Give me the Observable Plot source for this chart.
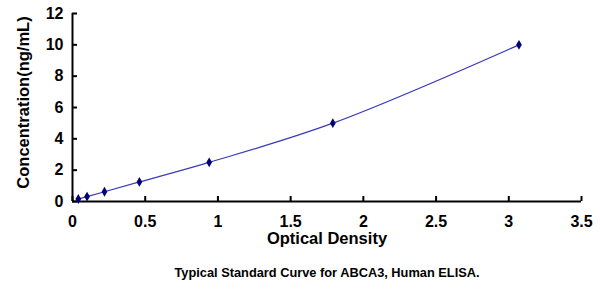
<!DOCTYPE html>
<html>
<head>
<meta charset="utf-8">
<script src="https://cdn.jsdelivr.net/npm/d3@7"></script>
<script src="https://cdn.jsdelivr.net/npm/@observablehq/plot@0.6"></script>
<style>
  html, body { margin: 0; padding: 0; background: #fff; }
  svg { display: block; }
</style>
</head>
<body>
<div id="chart"></div>
<script>
const od = [0.04, 0.10, 0.22, 0.46, 0.94, 1.79, 3.07];
const conc = [0.156, 0.312, 0.625, 1.25, 2.5, 5, 10];
const xTicks = [0, 0.5, 1, 1.5, 2, 2.5, 3, 3.5];
const yTicks = [0, 2, 4, 6, 8, 10, 12];
const xLabel = "Optical Density";
const yLabel = "Concentration(ng/mL)";
const caption = "Typical Standard Curve for ABCA3, Human ELISA.";

const data = od.map((x, i) => ({x, y: conc[i]}));
const font = "'Liberation Sans', Arial, sans-serif";
const W = 600, H = 289, ML = 72, MR = 19, MT = 13, MB = 88;
const tickLen = 5;

const chart = Plot.plot({
  width: W,
  height: H,
  marginLeft: ML,
  marginRight: MR,
  marginTop: MT,
  marginBottom: MB,
  style: {fontFamily: font, background: "#fff", color: "#000", overflow: "visible"},
  x: {domain: [0, 3.5]},
  y: {domain: [0, 12]},
  marks: [
    Plot.axisX({ticks: xTicks, tickFormat: d => String(d), tickSize: 0, tickPadding: 14, label: null, fontSize: 16, fontWeight: "bold", fill: "#000"}),
    Plot.axisY({ticks: yTicks, tickFormat: d => String(d), tickSize: 0, tickPadding: 9, label: null, fontSize: 16, fontWeight: "bold", fill: "#000"}),
    Plot.tickX(xTicks, {x: d => d, insetTop: H - MT - MB - tickLen, stroke: "#000", strokeWidth: 2}),
    Plot.tickY(yTicks, {y: d => d, insetRight: W - ML - MR - tickLen, stroke: "#000", strokeWidth: 2}),
    Plot.ruleX([0], {stroke: "#000", strokeWidth: 2}),
    Plot.ruleY([0], {stroke: "#000", strokeWidth: 2}),
    Plot.line(data, {x: "x", y: "y", curve: "catmull-rom", stroke: "#3b3bb8", strokeWidth: 1.2}),
    Plot.dot(data, {x: "x", y: "y", symbol: "diamond", r: 3, fill: "#00007a", stroke: "none"}),
    Plot.text([xLabel], {frameAnchor: "bottom", dy: 42, fontSize: 16.5, fontWeight: "bold", fill: "#000"}),
    Plot.text([yLabel], {frameAnchor: "left", textAnchor: "middle", dx: -49, dy: -5, rotate: -90, fontSize: 16.5, fontWeight: "bold", fill: "#000"}),
    Plot.text([caption], {frameAnchor: "bottom", dy: 75, fontSize: 12.8, fontWeight: "bold", fill: "#000"})
  ]
});
document.getElementById("chart").appendChild(chart);
</script>
</body>
</html>
